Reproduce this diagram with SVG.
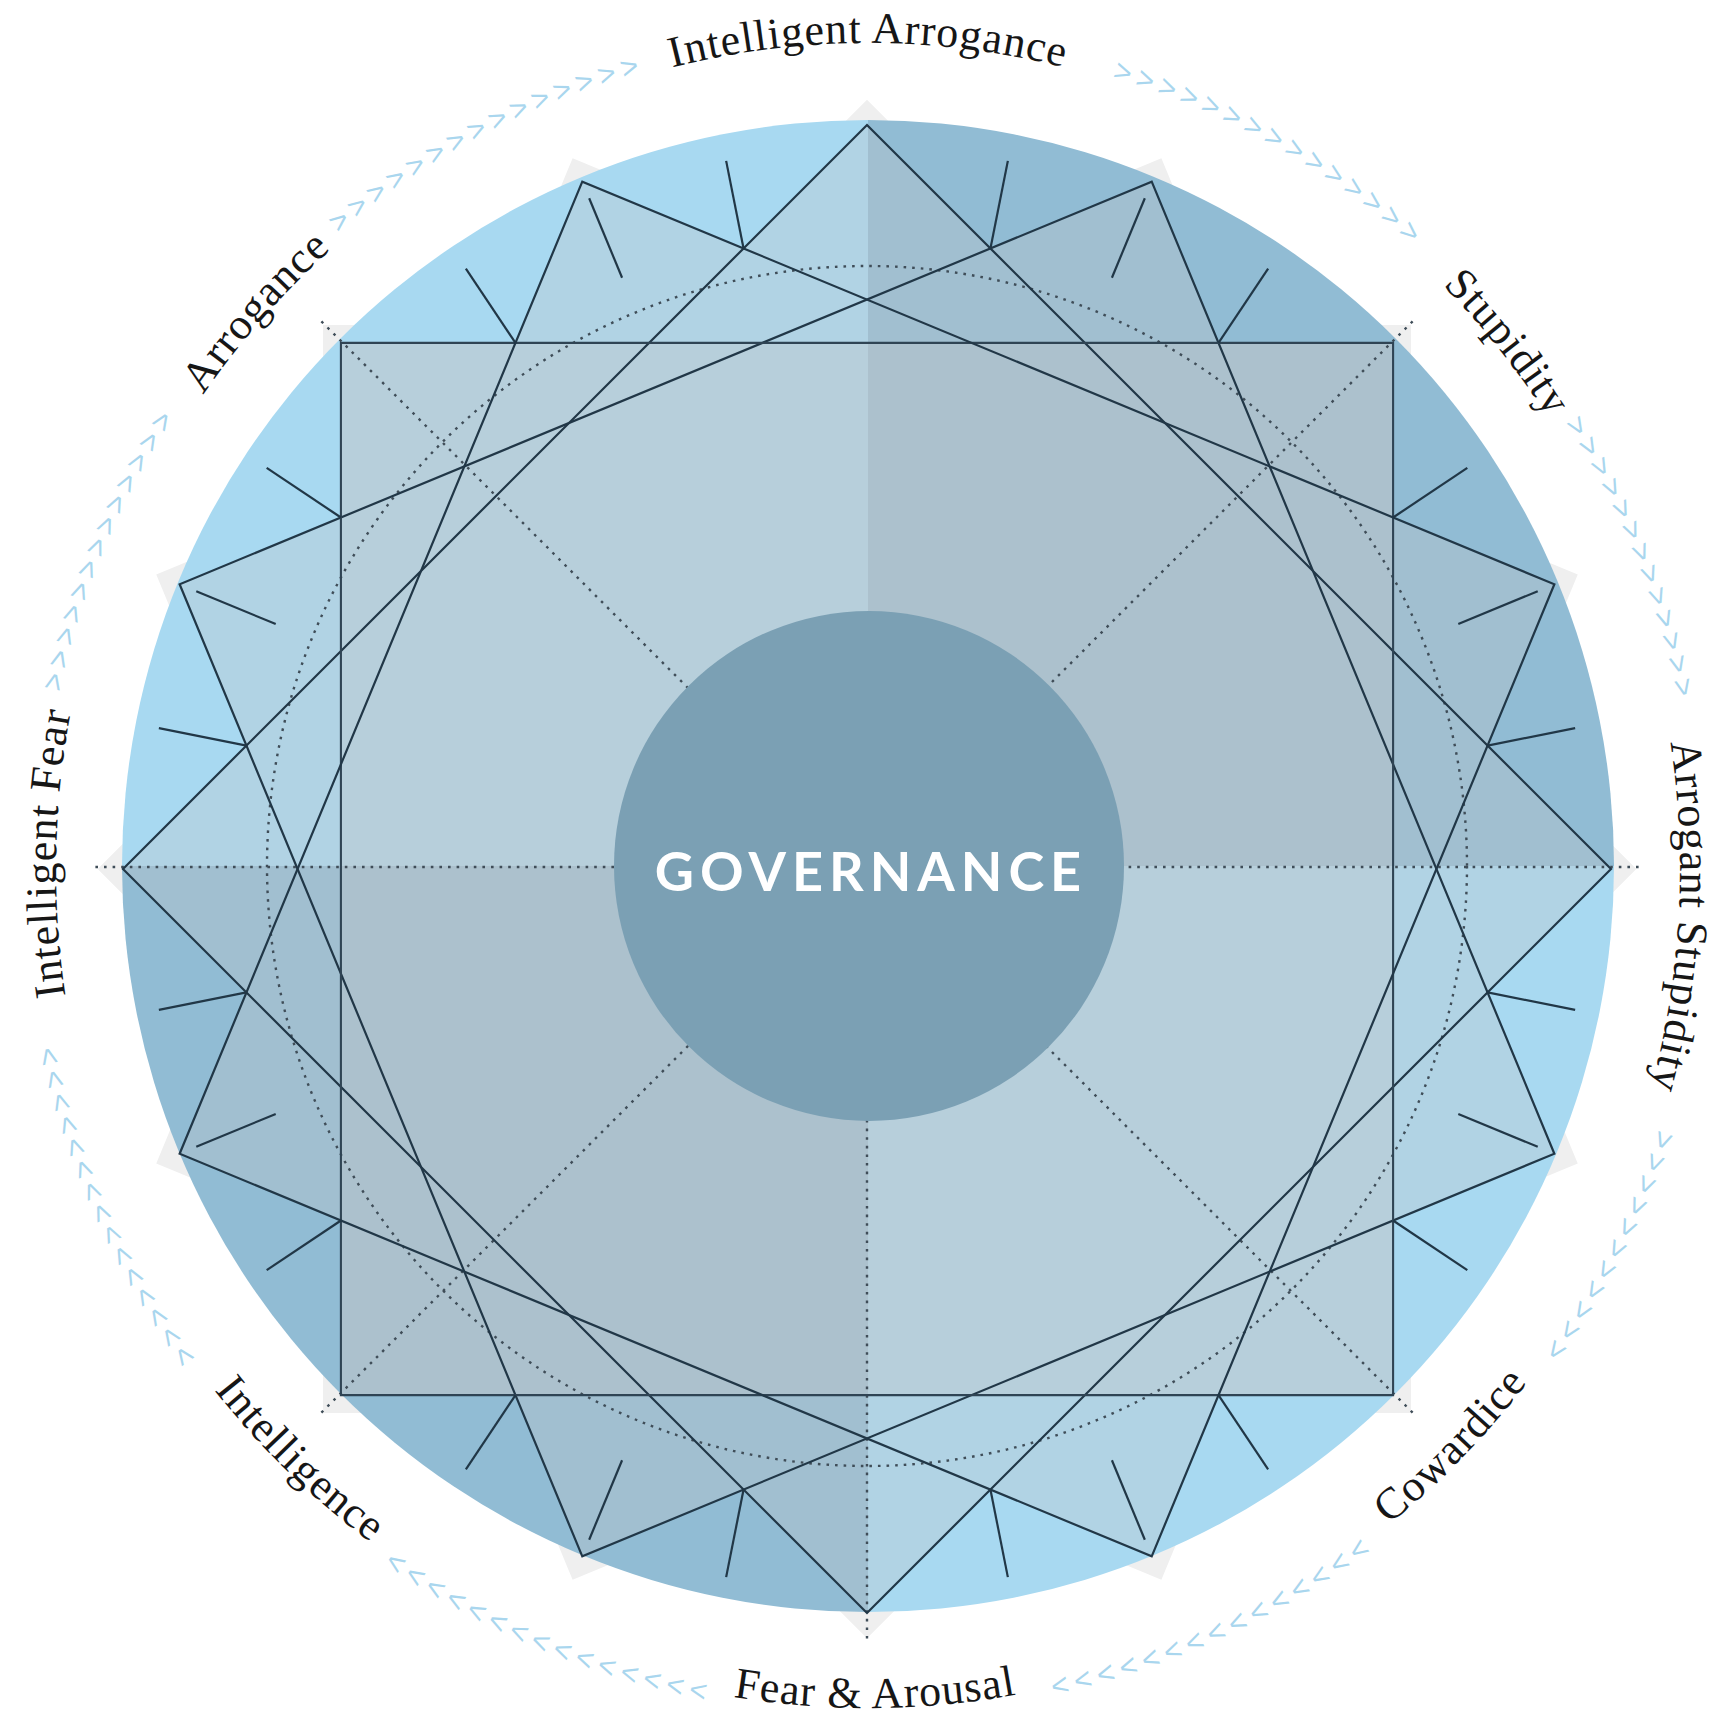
<svg xmlns="http://www.w3.org/2000/svg" xmlns:xlink="http://www.w3.org/1999/xlink" width="1731" height="1723" viewBox="0 0 1731 1723">
<style>
.lbl{font-family:"Liberation Serif","Times New Roman",serif;font-size:44px;letter-spacing:1px;fill:#161616}
.chev{font-family:"Liberation Sans",Arial,sans-serif;font-size:30px;letter-spacing:5.8px;fill:#a9d6ee}
.edge{fill:none;stroke:#213747;stroke-width:2.2;stroke-linejoin:miter}
.sq{fill:none;stroke:#2f4454;stroke-width:2.1}
.tick{stroke:#213747;stroke-width:2.2}
.dot{stroke:#3f4d58;stroke-width:2.4;stroke-dasharray:2.6 6;fill:none}
.gray{fill:#c8c8c8;opacity:0.3}
</style>
<defs>
<path id="star" d="M867,125 L990.43,248.46 L1151.72,181.63 L1218.51,342.93 L1393.09,342.91 L1393.07,517.49 L1554.37,584.28 L1487.54,745.57 L1611,869 L1487.54,992.43 L1554.37,1153.72 L1393.07,1220.51 L1393.09,1395.09 L1218.51,1395.07 L1151.72,1556.37 L990.43,1489.54 L867,1613 L743.57,1489.54 L582.28,1556.37 L515.49,1395.07 L340.91,1395.09 L340.93,1220.51 L179.63,1153.72 L246.46,992.43 L123,869 L246.46,745.57 L179.63,584.28 L340.93,517.49 L340.91,342.91 L515.49,342.93 L582.28,181.63 L743.57,248.46 Z"/>
<path id="lu" d="M868,1695 A812,826 0 1 1 868,43 A812,826 0 1 1 868,1695"/>
<path id="ll" d="M868,30 A834,839 0 1 0 868,1708 A834,839 0 1 0 868,30"/>
<path id="cu" d="M868,1692 A825,825 0 1 1 868,42 A825,825 0 1 1 868,1692"/>
<path id="cl" d="M868,1698 A831,831 0 1 1 868,36 A831,831 0 1 1 868,1698"/>
<line id="tc" x1="867" y1="236.3" x2="867" y2="147" class="tick"/>
<line id="tv" x1="867" y1="229" x2="867" y2="143" class="tick"/>
<line id="dl" x1="867" y1="614" x2="867" y2="92" class="dot"/>
</defs>
<rect width="1731" height="1723" fill="#ffffff"/>

<g id="shadow-star">
<use xlink:href="#star" fill="#efefef" transform="translate(867 869) scale(1.034) translate(-867 -869)"/>
</g>

<g id="disk">
<path d="M868,866 V120 A746,746 0 0 0 122,866 Z" fill="#a8d9f1"/>
<path d="M868,866 V120 A746,746 0 0 1 1614,866 Z" fill="#91bcd4"/>
<path d="M868,866 H1614 A746,746 0 0 1 868,1612 Z" fill="#a8d9f1"/>
<path d="M868,866 V1612 A746,746 0 0 1 122,866 Z" fill="#91bcd4"/>
</g>

<g id="overlays">
<use xlink:href="#star" class="gray"/>
<rect x="340.91" y="342.91" width="1052.18" height="1052.18" class="gray"/>
</g>

<g id="dotted">
<circle cx="867" cy="866" r="600" class="dot"/>
<use xlink:href="#dl" transform="rotate(45 867 867)"/>
<use xlink:href="#dl" transform="rotate(90 867 867)"/>
<use xlink:href="#dl" transform="rotate(135 867 867)"/>
<use xlink:href="#dl" transform="rotate(180 867 867)"/>
<use xlink:href="#dl" transform="rotate(225 867 867)"/>
<use xlink:href="#dl" transform="rotate(270 867 867)"/>
<use xlink:href="#dl" transform="rotate(315 867 867)"/>
</g>

<g id="squares">
<polygon class="edge" points="867,125 1611,869 867,1613 123,869"/>
<polygon class="edge" points="1151.72,181.63 1554.37,1153.72 582.28,1556.37 179.63,584.28"/>
<polygon class="sq" points="1393.09,342.91 1393.09,1395.09 340.91,1395.09 340.91,342.91"/>
<polygon class="edge" points="1554.37,584.28 1151.72,1556.37 179.63,1153.72 582.28,181.63"/>
</g>

<g id="ticks">
<use xlink:href="#tc" transform="rotate(11.25 867 869)"/>
<use xlink:href="#tc" transform="rotate(33.75 867 869)"/>
<use xlink:href="#tc" transform="rotate(56.25 867 869)"/>
<use xlink:href="#tc" transform="rotate(78.75 867 869)"/>
<use xlink:href="#tc" transform="rotate(101.25 867 869)"/>
<use xlink:href="#tc" transform="rotate(123.75 867 869)"/>
<use xlink:href="#tc" transform="rotate(146.25 867 869)"/>
<use xlink:href="#tc" transform="rotate(168.75 867 869)"/>
<use xlink:href="#tc" transform="rotate(191.25 867 869)"/>
<use xlink:href="#tc" transform="rotate(213.75 867 869)"/>
<use xlink:href="#tc" transform="rotate(236.25 867 869)"/>
<use xlink:href="#tc" transform="rotate(258.75 867 869)"/>
<use xlink:href="#tc" transform="rotate(281.25 867 869)"/>
<use xlink:href="#tc" transform="rotate(303.75 867 869)"/>
<use xlink:href="#tc" transform="rotate(326.25 867 869)"/>
<use xlink:href="#tc" transform="rotate(348.75 867 869)"/>
<use xlink:href="#tv" transform="rotate(22.5 867 869)"/>
<use xlink:href="#tv" transform="rotate(67.5 867 869)"/>
<use xlink:href="#tv" transform="rotate(112.5 867 869)"/>
<use xlink:href="#tv" transform="rotate(157.5 867 869)"/>
<use xlink:href="#tv" transform="rotate(202.5 867 869)"/>
<use xlink:href="#tv" transform="rotate(247.5 867 869)"/>
<use xlink:href="#tv" transform="rotate(292.5 867 869)"/>
<use xlink:href="#tv" transform="rotate(337.5 867 869)"/>
</g>

<g id="governance">
<circle cx="869" cy="866" r="255" fill="#7ba0b4"/>
<text x="871" y="891" text-anchor="middle" font-family="Lato,'Open Sans',sans-serif" font-weight="700" font-size="54" letter-spacing="6" fill="#ffffff">GOVERNANCE</text>
</g>

<g id="labels">
<text class="lbl" text-anchor="middle"><textPath xlink:href="#lu" startOffset="50%">Intelligent Arrogance</textPath></text>
<text class="lbl" text-anchor="middle"><textPath xlink:href="#lu" startOffset="64.1%">Stupidity</textPath></text>
<text class="lbl" text-anchor="middle"><textPath xlink:href="#lu" startOffset="75.92%">Arrogant Stupidity</textPath></text>
<text class="lbl" text-anchor="middle"><textPath xlink:href="#lu" startOffset="25.3%">Intelligent Fear</textPath></text>
<text class="lbl" text-anchor="middle"><textPath xlink:href="#lu" startOffset="36.69%">Arrogance</textPath></text>
<text class="lbl" text-anchor="middle"><textPath xlink:href="#ll" startOffset="50.14%">Fear &amp; Arousal</textPath></text>
<text class="lbl" text-anchor="middle"><textPath xlink:href="#ll" startOffset="37.78%">Intelligence</textPath></text>
<text class="lbl" text-anchor="middle"><textPath xlink:href="#ll" startOffset="62.61%">Cowardice</textPath></text>
</g>

<g id="chevrons">
<text class="chev" text-anchor="middle"><textPath xlink:href="#cu" startOffset="31.32%">&gt;&gt;&gt;&gt;&gt;&gt;&gt;&gt;&gt;&gt;&gt;&gt;&gt;</textPath></text>
<text class="chev" text-anchor="middle"><textPath xlink:href="#cu" startOffset="42.29%">&gt;&gt;&gt;&gt;&gt;&gt;&gt;&gt;&gt;&gt;&gt;&gt;&gt;&gt;&gt;</textPath></text>
<text class="chev" text-anchor="middle"><textPath xlink:href="#cu" startOffset="58.15%">&gt;&gt;&gt;&gt;&gt;&gt;&gt;&gt;&gt;&gt;&gt;&gt;&gt;&gt;&gt;</textPath></text>
<text class="chev" text-anchor="middle"><textPath xlink:href="#cu" startOffset="68.90%">&gt;&gt;&gt;&gt;&gt;&gt;&gt;&gt;&gt;&gt;&gt;&gt;&gt;</textPath></text>
<text class="chev" text-anchor="middle"><textPath xlink:href="#cl" startOffset="82.56%">&gt;&gt;&gt;&gt;&gt;&gt;&gt;&gt;&gt;&gt;&gt;</textPath></text>
<text class="chev" text-anchor="middle"><textPath xlink:href="#cl" startOffset="93.26%">&gt;&gt;&gt;&gt;&gt;&gt;&gt;&gt;&gt;&gt;&gt;&gt;&gt;&gt;&gt;</textPath></text>
<text class="chev" text-anchor="middle"><textPath xlink:href="#cl" startOffset="6.42%">&gt;&gt;&gt;&gt;&gt;&gt;&gt;&gt;&gt;&gt;&gt;&gt;&gt;&gt;&gt;</textPath></text>
<text class="chev" text-anchor="middle"><textPath xlink:href="#cl" startOffset="18.31%">&gt;&gt;&gt;&gt;&gt;&gt;&gt;&gt;&gt;&gt;&gt;&gt;&gt;&gt;&gt;</textPath></text>
</g>
</svg>
